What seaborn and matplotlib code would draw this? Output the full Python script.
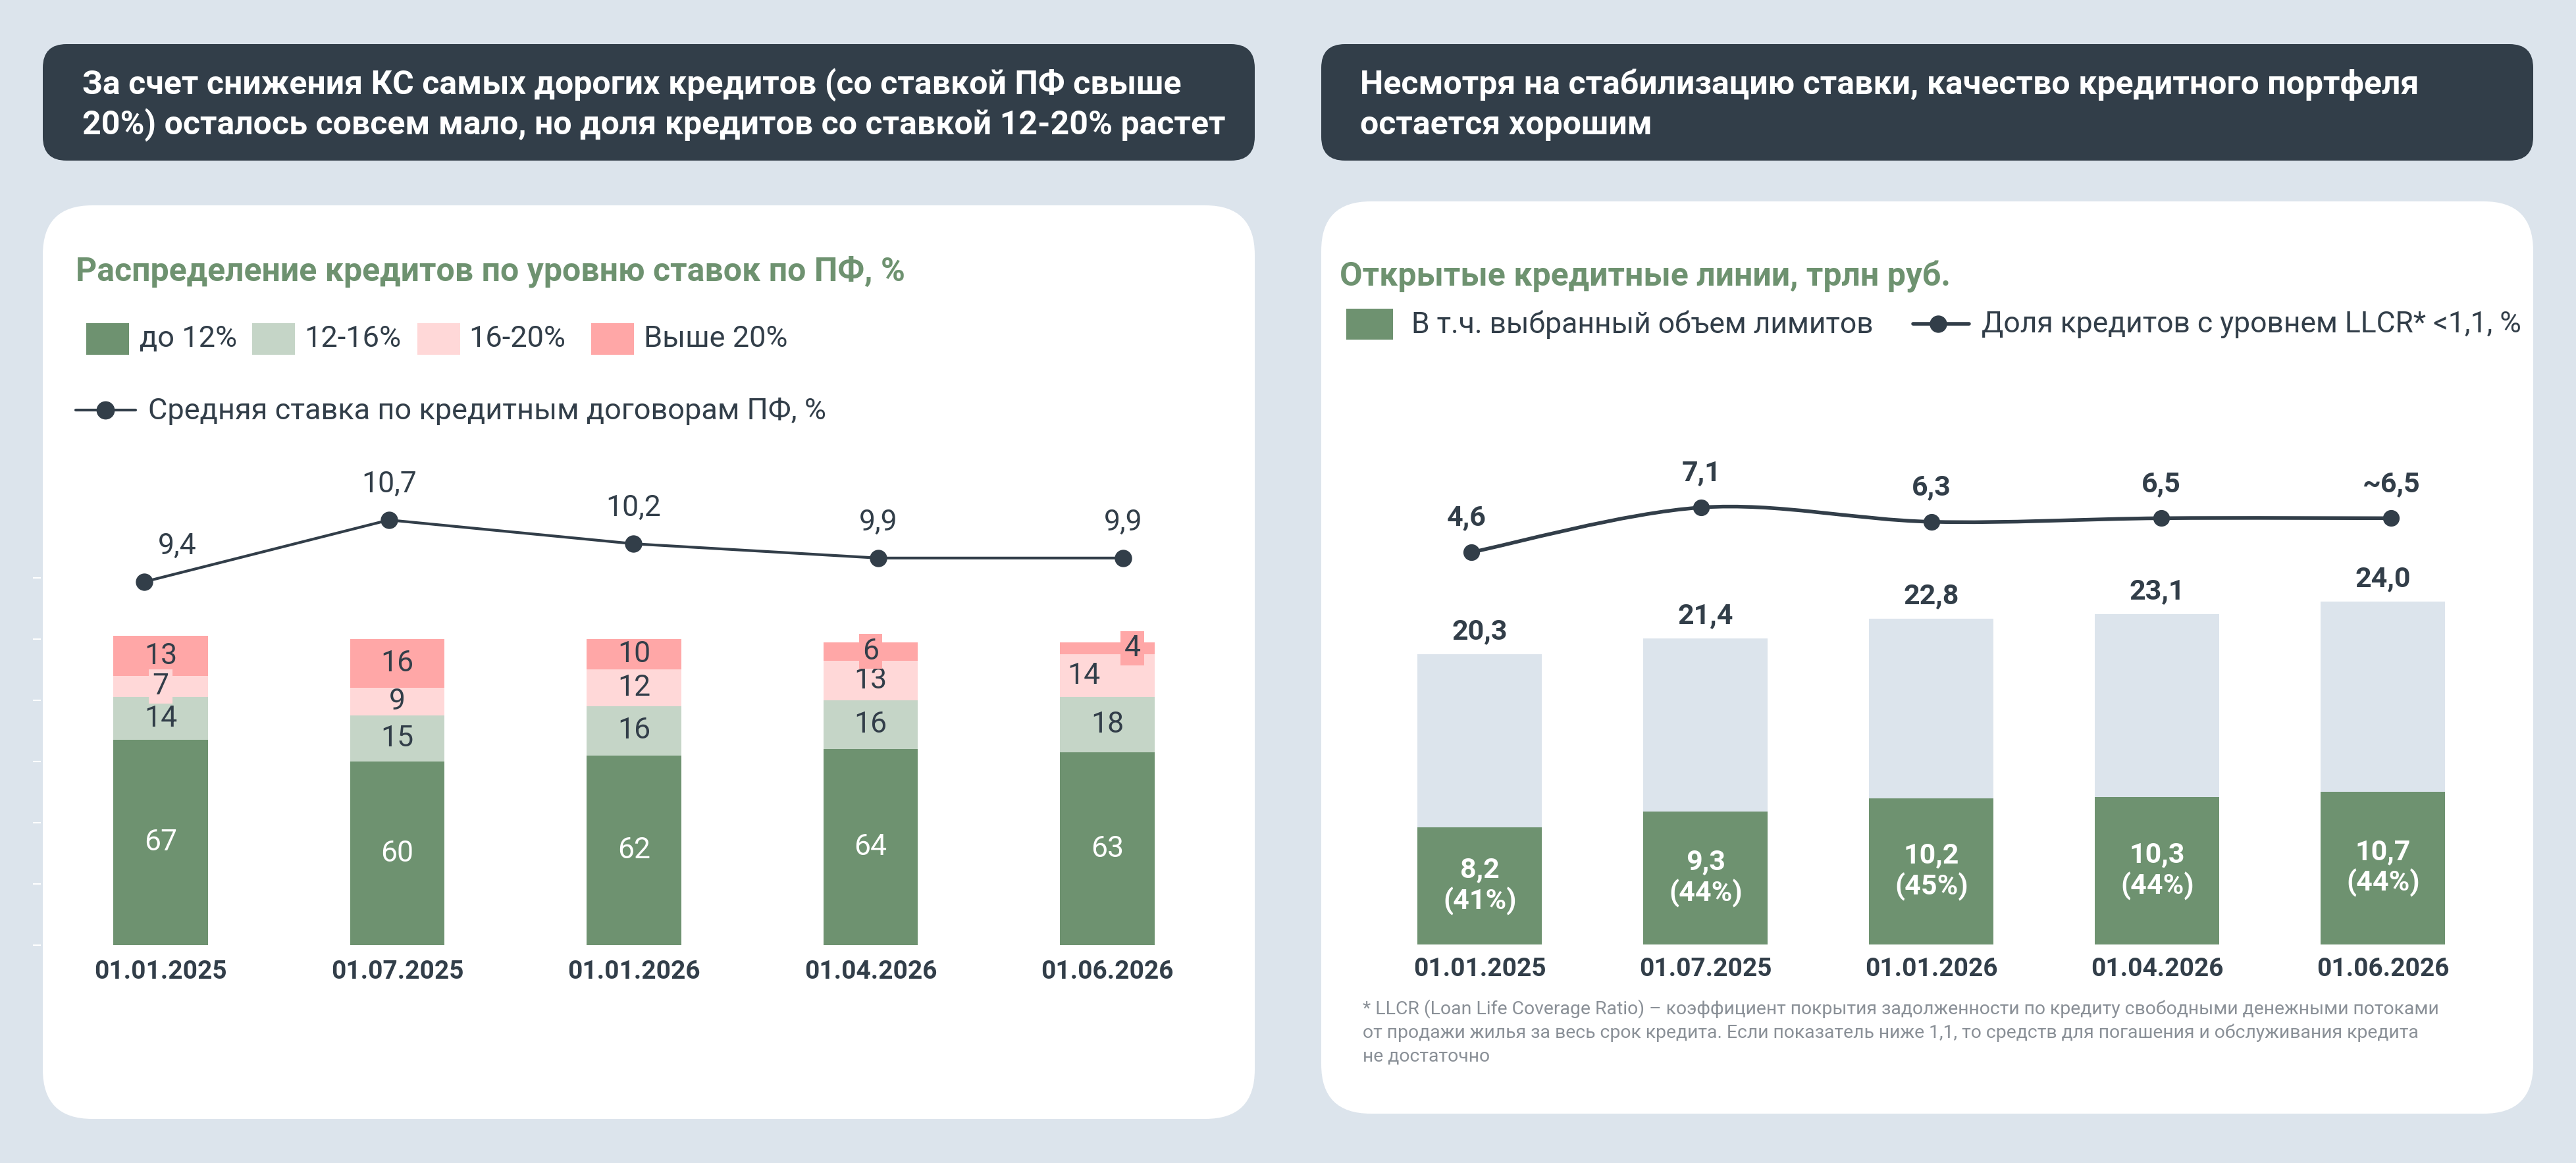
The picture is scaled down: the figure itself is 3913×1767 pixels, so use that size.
import numpy as np
import pandas as pd
import matplotlib
matplotlib.use("Agg")
import matplotlib.pyplot as plt
import seaborn as sns
from matplotlib.patches import FancyBboxPatch, Rectangle, PathPatch
from matplotlib.path import Path
from matplotlib.lines import Line2D

# ---------------- data ----------------
dates = ["01.01.2025", "01.07.2025", "01.01.2026", "01.04.2026", "01.06.2026"]

# left chart: distribution of loans by project-finance rate, %
share_to12 = [67, 60, 62, 64, 63]
share_12_16 = [14, 15, 16, 16, 18]
share_16_20 = [7, 9, 12, 13, 14]
share_over20 = [13, 16, 10, 6, 4]
avg_rate = [9.4, 10.7, 10.2, 9.9, 9.9]

# right chart: open credit lines, trn rub
credit_lines = [20.3, 21.4, 22.8, 23.1, 24.0]
used_limits = [8.2, 9.3, 10.2, 10.3, 10.7]
used_share = [41, 44, 45, 44, 44]
llcr_share = [4.6, 7.1, 6.3, 6.5, 6.5]
llcr_approx = [False, False, False, False, True]

header_left = ["За счет снижения КС самых дорогих кредитов (со ставкой ПФ свыше",
               "20%) осталось совсем мало, но доля кредитов со ставкой 12-20% растет"]
header_right = ["Несмотря на стабилизацию ставки, качество кредитного портфеля",
                "остается хорошим"]
title_left = "Распределение кредитов по уровню ставок по ПФ, %"
title_right = "Открытые кредитные линии, трлн руб."
legend_left = ["до 12%", "12-16%", "16-20%", "Выше 20%"]
legend_left_line = "Средняя ставка по кредитным договорам ПФ, %"
legend_right = "В т.ч. выбранный объем лимитов"
legend_right_line = "Доля кредитов с уровнем LLCR* <1,1, %"
footnote = ["* LLCR (Loan Life Coverage Ratio) – коэффициент покрытия задолженности по кредиту свободными денежными потоками",
            "от продажи жилья за весь срок кредита. Если показатель ниже 1,1, то средств для погашения и обслуживания кредита",
            "не достаточно"]

# ---------------- style ----------------
BG = "#dce4ec"
DARK = "#323e49"
GREEN = "#6e9270"
LGREEN = "#c5d5c7"
PINK = "#ffd8d8"
RED = "#ffa7a7"
GREY_BAR = "#dce4ec"
TITLE_GREEN = "#6e9270"
FOOT = "#8a9097"

sns.set_theme(style="white")
plt.rcParams["font.family"] = ["Roboto", "DejaVu Sans"]

W, H = 3913, 1767
fig = plt.figure(figsize=(W / 100, H / 100), dpi=100)
fig.patch.set_facecolor(BG)


def px_axes(x0, y0, x1, y1):
    # box in pixels, y measured from the top
    ax = fig.add_axes([x0 / W, 1 - y1 / H, (x1 - x0) / W, (y1 - y0) / H])
    ax.set_facecolor("none")
    return ax


def fmt(v):
    return f"{v:.1f}".replace(".", ",")


# background layer in pixel coordinates
bg = fig.add_axes([0, 0, 1, 1])
bg.set_xlim(0, W)
bg.set_ylim(H, 0)
bg.axis("off")

for x0, x1 in [(65, 1906), (2007, 3848)]:
    bg.add_patch(FancyBboxPatch((x0, 67), x1 - x0, 177,
                                boxstyle="round,pad=0,rounding_size=36",
                                fc=DARK, ec="none"))
bg.add_patch(FancyBboxPatch((65, 312), 1841, 1388,
                            boxstyle="round,pad=0,rounding_size=75", fc="white", ec="none"))
bg.add_patch(FancyBboxPatch((2007, 306), 1841, 1386,
                            boxstyle="round,pad=0,rounding_size=75", fc="white", ec="none"))

for i, line in enumerate(header_left):
    bg.text(125, 129 + i * 61, line, color="white", fontsize=36, fontweight="semibold", va="center")
for i, line in enumerate(header_right):
    bg.text(2066, 129 + i * 61, line, color="white", fontsize=36, fontweight="semibold", va="center")

bg.text(115, 413, title_left, color=TITLE_GREEN, fontsize=36, fontweight="semibold", va="center")
bg.text(2035, 420, title_right, color=TITLE_GREEN, fontsize=36, fontweight="semibold", va="center")

# left legend
layer_colors = [GREEN, LGREEN, PINK, RED]
for name, col, sx, tx in zip(legend_left, layer_colors, [131, 383, 634, 898], [212, 462, 712, 978]):
    bg.add_patch(Rectangle((sx, 491), 65, 48, fc=col, ec="none"))
    bg.text(tx, 515, name, color=DARK, fontsize=32.5, va="center")
bg.add_line(Line2D([115, 206], [623, 623], color=DARK, lw=3))
bg.plot([160], [623], "o", color=DARK, ms=19)
bg.text(225, 625, legend_left_line, color=DARK, fontsize=32.5, va="center")

# right legend
bg.add_patch(Rectangle((2045, 469), 71, 47, fc=GREEN, ec="none"))
bg.text(2144, 493, legend_right, color=DARK, fontsize=32, va="center")
bg.add_line(Line2D([2906, 2991], [492, 492], color=DARK, lw=4))
bg.plot([2944], [492], "o", color=DARK, ms=18)
bg.text(3010, 493, legend_right_line, color=DARK, fontsize=32, va="center")

for i, line in enumerate(footnote):
    bg.text(2070, 1533 + i * 36, line, color=FOOT, fontsize=20.4, va="center")

# ---------------- left: stacked bars ----------------
axl = px_axes(62, 878, 1906, 1436)
layers = [share_to12, share_12_16, share_16_20, share_over20]
cum = np.cumsum(np.array(layers), axis=0)
for k in range(3, -1, -1):
    sns.barplot(x=dates, y=cum[k], color=layer_colors[k], width=0.40,
                saturation=1, linewidth=0, ax=axl)

label_offset = {(4, 2): -36, (4, 3): 38}  # x shifts in pixels for crowded labels
for i in range(len(dates)):
    bottom = 0
    for k, vals in enumerate(layers):
        v = vals[i]
        dx = label_offset.get((i, k), 0)
        kw = {}
        if v < 8:
            kw["bbox"] = dict(boxstyle="square,pad=0.12", fc=layer_colors[k], ec="none")
        axl.annotate(str(v), (i, bottom + v / 2), xytext=(dx, 0), textcoords="offset pixels",
                     ha="center", va="center", fontsize=32,
                     color="white" if k == 0 else DARK, **kw)
        bottom += v

axl.set_xlim(-0.506, 4.623)
axl.set_ylim(0, 120)
axl.set_yticks(range(0, 121, 20))
axl.tick_params(axis="y", length=9, width=1.5, color="white", labelleft=False, left=True)
axl.tick_params(axis="x", length=0, pad=16, labelsize=28, labelcolor=DARK)
for lbl in axl.get_xticklabels():
    lbl.set_fontweight("semibold")
axl.set_xlabel("")
axl.set_ylabel("")
sns.despine(ax=axl, left=True, bottom=True)

# left: average rate line
axl2 = px_axes(62, 700, 1906, 1000)
sns.lineplot(x=range(len(avg_rate)), y=avg_rate, color=DARK, linewidth=3,
             marker="o", markersize=19, markeredgewidth=0, ax=axl2)
for i, v in enumerate(avg_rate):
    dx = 50 if i == 0 else 0
    axl2.annotate(fmt(v), (i, v), xytext=(dx, 54), textcoords="offset pixels",
                  ha="center", va="center", fontsize=32, color=DARK)
axl2.set_xlim(-0.4223, 4.538)
axl2.set_ylim(7.796, 11.945)
axl2.axis("off")

# ---------------- right: credit lines ----------------
axr = px_axes(2007, 850, 3847, 1435)
sns.barplot(x=dates, y=credit_lines, color=GREY_BAR, width=0.551, saturation=1, linewidth=0, ax=axr)
sns.barplot(x=dates, y=used_limits, color=GREEN, width=0.551, saturation=1, linewidth=0, ax=axr)
for i in range(len(dates)):
    axr.annotate(fmt(credit_lines[i]), (i, credit_lines[i]), xytext=(0, 34),
                 textcoords="offset pixels", ha="center", va="center",
                 fontsize=31, fontweight="semibold", color=DARK)
    axr.text(i, used_limits[i] / 2, f"{fmt(used_limits[i])}\n({used_share[i]}%)",
             ha="center", va="center", fontsize=31, fontweight="semibold",
             color="white", linespacing=1.15)
axr.set_xlim(-0.7026, 4.662)
axr.set_ylim(0, 26.93)
axr.set_yticks([])
axr.tick_params(axis="x", length=0, pad=14, labelsize=28, labelcolor=DARK)
for lbl in axr.get_xticklabels():
    lbl.set_fontweight("semibold")
axr.set_xlabel("")
axr.set_ylabel("")
sns.despine(ax=axr, left=True, bottom=True)

# right: LLCR share, smooth line (Catmull-Rom drawn as cubic Bezier)
axr2 = px_axes(2007, 650, 3847, 900)
xs = np.arange(len(llcr_share), dtype=float)
pts = np.column_stack([xs, llcr_share])
verts = [pts[0]]
codes = [Path.MOVETO]
n = len(pts)
for i in range(n - 1):
    p0, p1, p2, p3 = pts[max(i - 1, 0)], pts[i], pts[i + 1], pts[min(i + 2, n - 1)]
    verts += [p1 + (p2 - p0) / 6, p2 - (p3 - p1) / 6, p2]
    codes += [Path.CURVE4] * 3
axr2.add_patch(PathPatch(Path(verts, codes), fc="none", ec=DARK, lw=4))
sns.scatterplot(x=xs, y=llcr_share, color=DARK, s=330, linewidth=0, ax=axr2, zorder=3)
for i, v in enumerate(llcr_share):
    txt = ("~" if llcr_approx[i] else "") + fmt(v)
    dx = -7 if i == 0 else 0
    axr2.annotate(txt, (i, v), xytext=(dx, 52), textcoords="offset pixels",
                  ha="center", va="center", fontsize=31, fontweight="semibold", color=DARK)
axr2.set_xlim(-0.653, 4.615)
axr2.set_ylim(2.357, 11.549)
axr2.axis("off")

fig.savefig("out.png", dpi=100, facecolor=BG)
